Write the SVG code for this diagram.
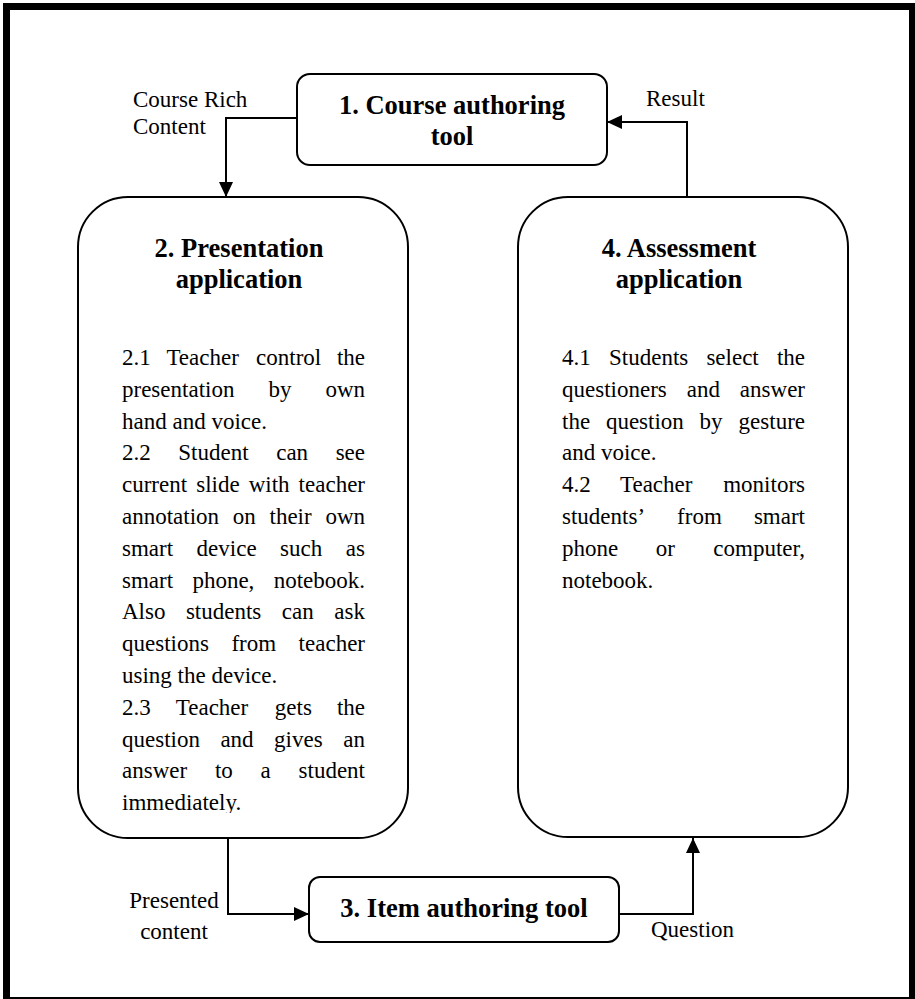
<svg xmlns="http://www.w3.org/2000/svg" width="915" height="999" viewBox="0 0 915 999">
  <defs>
    <style>
      .box { fill: #ffffff; stroke: #000000; stroke-width: 2; }
      .frame { fill: none; stroke: #000000; stroke-width: 7; }
      .wire { fill: none; stroke: #000000; stroke-width: 2; }
      .title { font-family: "Liberation Serif", "Times New Roman", serif; font-weight: bold; font-size: 26.5px; fill: #000000; text-anchor: middle; }
      .body { font-family: "Liberation Serif", "Times New Roman", serif; font-size: 23px; fill: #000000; }
      .lbl { font-family: "Liberation Serif", "Times New Roman", serif; font-size: 23px; fill: #000000; }
      .end { text-anchor: end; }
      .mid { text-anchor: middle; }
    </style>
    <marker id="arrow" viewBox="0 0 15 14" refX="15" refY="7" markerWidth="15" markerHeight="14" markerUnits="userSpaceOnUse" orient="auto">
      <path d="M0,0 L15,7 L0,14 Z" fill="#000000"/>
    </marker>
    <clipPath id="clipBody2">
      <rect x="80" y="330" width="320" height="483"/>
    </clipPath>
  </defs>

  <rect x="0" y="0" width="915" height="999" fill="#ffffff"/>
  <!-- outer page frame -->
  <rect class="frame" x="6.5" y="6.5" width="906" height="994"/>

  <!-- connectors -->
  <g id="connectors">
    <polyline class="wire" points="297,118 226,118 226,197" marker-end="url(#arrow)"/>
    <polyline class="wire" points="687,197 687,122 607,122" marker-end="url(#arrow)"/>
    <polyline class="wire" points="228,838 228,914 309,914" marker-end="url(#arrow)"/>
    <polyline class="wire" points="619,914 693,914 693,838" marker-end="url(#arrow)"/>
    <text class="lbl" x="133" y="107">Course Rich</text>
    <text class="lbl" x="133" y="134">Content</text>
    <text class="lbl" x="646" y="106">Result</text>
    <text class="lbl mid" x="174" y="908">Presented</text>
    <text class="lbl mid" x="174" y="939">content</text>
    <text class="lbl" x="651" y="937">Question</text>
  </g>

  <!-- 1. Course authoring tool -->
  <g id="node1">
    <rect class="box" x="297" y="74" width="310" height="91" rx="13" ry="13"/>
    <text class="title" x="452" y="114">1. Course authoring</text>
    <text class="title" x="452" y="145">tool</text>
  </g>

  <!-- 2. Presentation application -->
  <g id="node2">
    <rect class="box" x="78" y="197" width="330" height="641" rx="50" ry="50"/>
    <text class="title" x="239" y="257">2. Presentation</text>
    <text class="title" x="239" y="288">application</text>
    <g clip-path="url(#clipBody2)" class="body">
      <text y="365"><tspan x="122">2.1</tspan><tspan x="166.4">Teacher</tspan><tspan x="256.1">control</tspan><tspan x="365" class="end">the</tspan></text>
      <text y="396.8"><tspan x="122">presentation</tspan><tspan x="268.4">by</tspan><tspan x="365" class="end">own</tspan></text>
      <text y="428.6" x="122">hand and voice.</text>
      <text y="460.4"><tspan x="122">2.2</tspan><tspan x="178.3">Student</tspan><tspan x="276.2">can</tspan><tspan x="365" class="end">see</tspan></text>
      <text y="492.2"><tspan x="122">current</tspan><tspan x="196.2">slide</tspan><tspan x="248.7">with</tspan><tspan x="365" class="end">teacher</tspan></text>
      <text y="524"><tspan x="122">annotation</tspan><tspan x="232.8">on</tspan><tspan x="269.5">their</tspan><tspan x="365" class="end">own</tspan></text>
      <text y="555.8"><tspan x="122">smart</tspan><tspan x="196.6">device</tspan><tspan x="280.1">such</tspan><tspan x="365" class="end">as</tspan></text>
      <text y="587.6"><tspan x="122">smart</tspan><tspan x="192.4">phone,</tspan><tspan x="365" class="end">notebook.</tspan></text>
      <text y="619.4"><tspan x="122">Also</tspan><tspan x="185.9">students</tspan><tspan x="281.8">can</tspan><tspan x="365" class="end">ask</tspan></text>
      <text y="651.2"><tspan x="122">questions</tspan><tspan x="231.4">from</tspan><tspan x="365" class="end">teacher</tspan></text>
      <text y="683" x="122">using the device.</text>
      <text y="714.8"><tspan x="122">2.3</tspan><tspan x="175.8">Teacher</tspan><tspan x="274.8">gets</tspan><tspan x="365" class="end">the</tspan></text>
      <text y="746.6"><tspan x="122">question</tspan><tspan x="220.4">and</tspan><tspan x="274.1">gives</tspan><tspan x="365" class="end">an</tspan></text>
      <text y="778.4"><tspan x="122">answer</tspan><tspan x="214.9">to</tspan><tspan x="260.6">a</tspan><tspan x="365" class="end">student</tspan></text>
      <text y="810.2" x="122">immediately.</text>
    </g>
  </g>

  <!-- 3. Item authoring tool -->
  <g id="node3">
    <rect class="box" x="309" y="877" width="310" height="65" rx="11" ry="11"/>
    <text class="title" x="464" y="917">3. Item authoring tool</text>
  </g>

  <!-- 4. Assessment application -->
  <g id="node4">
    <rect class="box" x="518" y="197" width="330" height="640" rx="50" ry="50"/>
    <text class="title" x="679" y="257">4. Assessment</text>
    <text class="title" x="679" y="288">application</text>
    <g class="body">
      <text y="365"><tspan x="562">4.1</tspan><tspan x="609">Students</tspan><tspan x="706.4">select</tspan><tspan x="805" class="end">the</tspan></text>
      <text y="396.8"><tspan x="562">questioners</tspan><tspan x="686.8">and</tspan><tspan x="805" class="end">answer</tspan></text>
      <text y="428.6"><tspan x="562">the</tspan><tspan x="605.9">question</tspan><tspan x="699.6">by</tspan><tspan x="805" class="end">gesture</tspan></text>
      <text y="460.4" x="562">and voice.</text>
      <text y="492.2"><tspan x="562">4.2</tspan><tspan x="620">Teacher</tspan><tspan x="805" class="end">monitors</tspan></text>
      <text y="524"><tspan x="562">students’</tspan><tspan x="677.1">from</tspan><tspan x="805" class="end">smart</tspan></text>
      <text y="555.8"><tspan x="562">phone</tspan><tspan x="655.7">or</tspan><tspan x="805" class="end">computer,</tspan></text>
      <text y="587.6" x="562">notebook.</text>
    </g>
  </g>
</svg>
